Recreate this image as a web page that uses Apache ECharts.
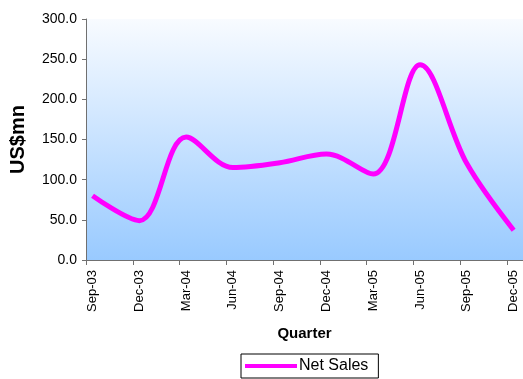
<!DOCTYPE html>
<html>
<head>
<meta charset="utf-8">
<script src="https://cdn.jsdelivr.net/npm/echarts@6/dist/echarts.min.js"></script>
<style>
  html, body { margin: 0; padding: 0; background: #ffffff; }
  #chart { width: 523px; height: 379px; }
</style>
</head>
<body>
<div id="chart"></div>
<script>
// Quarterly net sales, US$ millions
const quarters = ['Sep-03', 'Dec-03', 'Mar-04', 'Jun-04', 'Sep-04', 'Dec-04', 'Mar-05', 'Jun-05', 'Sep-05', 'Dec-05'];
const netSales = [80, 49, 153, 115, 121, 132, 107, 243, 120, 37];
const yTicks = [0, 50, 100, 150, 200, 250, 300];

// tick marks sit a little to the left of each quarter's point
const tickShift = 0.14;

const chart = echarts.init(document.getElementById('chart'), null, { renderer: 'canvas' });

chart.setOption({
  animation: false,
  textStyle: { fontFamily: 'Liberation Sans, Arial, sans-serif' },
  grid: {
    left: 86,
    top: 19,
    width: 439,
    height: 241,
    show: true,
    borderWidth: 0,
    backgroundColor: {
      type: 'linear', x: 0, y: 0, x2: 0, y2: 1,
      colorStops: [
        { offset: 0, color: '#f8fbff' },
        { offset: 1, color: '#99caff' }
      ]
    }
  },
  xAxis: {
    type: 'value',
    min: -tickShift,
    max: 9.2,
    interval: 1,
    name: 'Quarter',
    nameLocation: 'middle',
    nameGap: 66,
    nameTextStyle: { fontWeight: 'bold', fontSize: 15, color: '#000' },
    splitLine: { show: false },
    axisLine: { show: true, onZero: false, lineStyle: { color: '#707070', width: 1 } },
    axisTick: { show: true, length: 5, lineStyle: { color: '#707070' } },
    axisLabel: {
      rotate: 90,
      margin: 10,
      fontSize: 13,
      color: '#000',
      verticalAlign: 'top',
      showMaxLabel: false,
      formatter: function (v) {
        const i = Math.round(v + tickShift);
        return quarters[i] || '';
      }
    }
  },
  yAxis: {
    type: 'value',
    min: yTicks[0],
    max: yTicks[yTicks.length - 1],
    interval: 50,
    name: 'US$mn',
    nameLocation: 'middle',
    nameGap: 58,
    nameRotate: 90,
    nameTextStyle: { fontWeight: 'bold', fontSize: 20, color: '#000' },
    splitLine: { show: false },
    axisLine: { show: true, onZero: false, lineStyle: { color: '#707070', width: 1 } },
    axisTick: { show: true, length: 4, lineStyle: { color: '#707070' } },
    axisLabel: {
      fontSize: 14,
      color: '#000',
      margin: 9,
      formatter: function (v) { return v.toFixed(1); }
    }
  },
  legend: {
    left: 241,
    top: 354,
    icon: 'rect',
    itemWidth: 52,
    itemHeight: 4,
    itemGap: 2,
    padding: [4, 10, 4, 4],
    borderColor: '#000',
    borderWidth: 1,
    backgroundColor: '#fff',
    textStyle: { fontSize: 16, color: '#000', padding: [0, 0, 0, -3] },
    data: ['Net Sales']
  },
  series: [{
    name: 'Net Sales',
    type: 'line',
    smooth: 0.35,
    showSymbol: false,
    data: netSales.map(function (v, i) { return [i, v]; }),
    lineStyle: { color: '#ff00ff', width: 5 },
    itemStyle: { color: '#ff00ff' }
  }]
});
</script>
</body>
</html>
